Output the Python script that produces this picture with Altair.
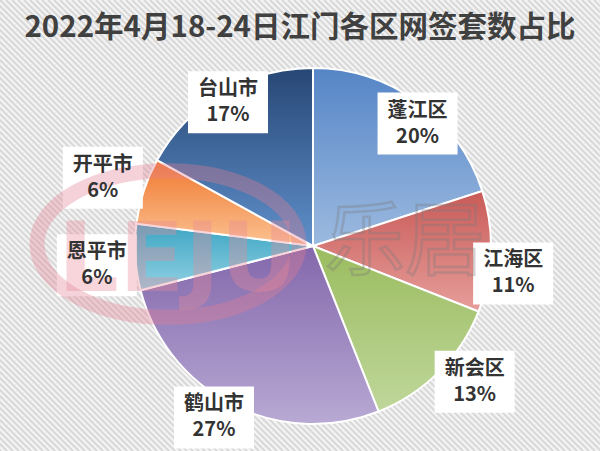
import math
import altair as alt
import pandas as pd

# ---------------- data ----------------
title_text = "2022年4月18-24日江门各区网签套数占比"
districts = ["蓬江区", "江海区", "新会区", "鹤山市", "恩平市", "开平市", "台山市"]
shares = [20, 11, 13, 27, 6, 6, 17]

# ---------------- styles ----------------
W, H = 600, 451
CX, CY, R = 313, 246, 178
FONT = "Noto Sans CJK SC"
gradients = {
    "蓬江区": ("#5585c6", "#9cbae0"),
    "江海区": ("#c95a57", "#e69e9b"),
    "新会区": ("#9bbc5f", "#bfd79b"),
    "鹤山市": ("#8367ab", "#b8a9d4"),
    "恩平市": ("#3ca5c3", "#92d1e3"),
    "开平市": ("#ef7830", "#fcc393"),
    "台山市": ("#274775", "#5f8fca"),
}
# label placement (radius in px, angle tweak in degrees)
label_r = {"蓬江区": 161, "江海区": 202, "新会区": 211, "鹤山市": 198,
           "恩平市": 217, "开平市": 221, "台山市": 167}
label_da = {"蓬江区": 4.5, "江海区": 6, "新会区": -5, "鹤山市": 3,
            "恩平市": -1.5, "开平市": 0, "台山市": 0}

df = pd.DataFrame({"district": districts, "share": shares,
                   "order": list(range(len(districts)))})

xs = alt.Scale(domain=[0, W], range=[0, W], nice=False, zero=False)
ys = alt.Scale(domain=[0, H], range=[0, H], nice=False, zero=False)
ts = alt.Scale(domain=[0, 100], range=[0, 2 * math.pi])

base = (alt.Chart(df)
        .transform_window(end="sum(share)", sort=[alt.SortField("order")],
                          frame=[None, 0])
        .transform_calculate(start="datum.end - datum.share"))

layers = []

# background stripes
stripes = (alt.Chart(alt.sequence(-80, 102, as_="k"))
           .transform_calculate(sx0="datum.k*6", sx1=f"datum.k*6+{H}",
                                sy0="0", sy1=f"{H}")
           .mark_rule(color="#d9d9d9", strokeWidth=2.2, clip=True)
           .encode(x=alt.X("sx0:Q", scale=xs, axis=None), x2="sx1:Q",
                   y=alt.Y("sy0:Q", scale=ys, axis=None), y2="sy1:Q"))
layers.append(stripes)

# pie slices (one layer each to give each its own gradient)
for d in districts:
    c0, c1 = gradients[d]
    grad = alt.LinearGradient(
        gradient="linear",
        stops=[alt.GradientStop(color=c0, offset=0),
               alt.GradientStop(color=c1, offset=1)],
        x1=0, y1=0, x2=0, y2=1)
    arc = (base.transform_filter(alt.datum.district == d)
           .mark_arc(radius=R, stroke="white", strokeWidth=2, fill=grad)
           .encode(theta=alt.Theta("start:Q", stack=None, scale=ts),
                   theta2="end:Q",
                   x=alt.value(CX), y=alt.value(CY)))
    layers.append(arc)

# label positions
def labelled(d):
    r = label_r[d]
    da = label_da[d]
    return (base.transform_filter(alt.datum.district == d)
            .transform_calculate(
                a=f"(datum.start + datum.end) / 100 * PI + {da} * PI / 180",
                cx=f"{CX} + {r} * sin(datum.a)",
                cy=f"{CY} - {r} * cos(datum.a)",
                bx0="datum.cx - 40", bx1="datum.cx + 40",
                by0="datum.cy - 31", by1="datum.cy + 31",
                pct="datum.share + '%'"))

for d in districts:
    box = (labelled(d).mark_rect(color="white")
           .encode(x=alt.X("bx0:Q", scale=xs, axis=None), x2="bx1:Q",
                   y=alt.Y("by0:Q", scale=ys, axis=None), y2="by1:Q"))
    layers.append(box)

# watermark (LEJU 乐居)
ellipse = "M -1 0 A 1 0.56 0 1 0 1 0 A 1 0.56 0 1 0 -1 0 Z"
one = alt.Data(values=[{"w": 1}])
layers.append(alt.Chart(one).mark_point(shape=ellipse, size=262 ** 2, filled=False,
                                        stroke="#e57f93", strokeWidth=15, opacity=0.35)
              .encode(x=alt.value(168), y=alt.value(244)))
layers.append(alt.Chart(one).mark_text(text="LEJU", font="DejaVu Sans", fontSize=96,
                                       fontWeight="bold", fill="#e98a99", opacity=0.35,
                                       baseline="middle")
              .encode(x=alt.value(178), y=alt.value(262)))
layers.append(alt.Chart(one).mark_text(text="乐居", font=FONT, fontSize=80,
                                       fillOpacity=0, stroke="#7a7a7a",
                                       strokeWidth=2.5, strokeOpacity=0.35,
                                       baseline="middle")
              .encode(x=alt.value(405), y=alt.value(244)))

# label texts
for d in districts:
    t1 = (labelled(d).mark_text(font=FONT, fontSize=20, fontWeight="bold",
                                color="#333333", dy=-13)
          .encode(x=alt.X("cx:Q", scale=xs, axis=None),
                  y=alt.Y("cy:Q", scale=ys, axis=None), text="district:N"))
    t2 = (labelled(d).mark_text(font=FONT, fontSize=20, fontWeight="bold",
                                color="#333333", dy=13)
          .encode(x=alt.X("cx:Q", scale=xs, axis=None),
                  y=alt.Y("cy:Q", scale=ys, axis=None), text="pct:N"))
    layers += [t1, t2]

# title
layers.append(alt.Chart(alt.Data(values=[{"t": title_text}]))
              .mark_text(font=FONT, fontSize=29.5, fontWeight="bold", color="#404040")
              .encode(x=alt.value(300), y=alt.value(28), text="t:N"))

chart = (alt.layer(*layers)
         .properties(width=W, height=H, background="#f4f4f4", padding=0,
                     autosize=alt.AutoSizeParams(type="none"))
         .configure_view(stroke=None))

chart.save("out.html", embed_options={"renderer": "svg", "actions": False})
